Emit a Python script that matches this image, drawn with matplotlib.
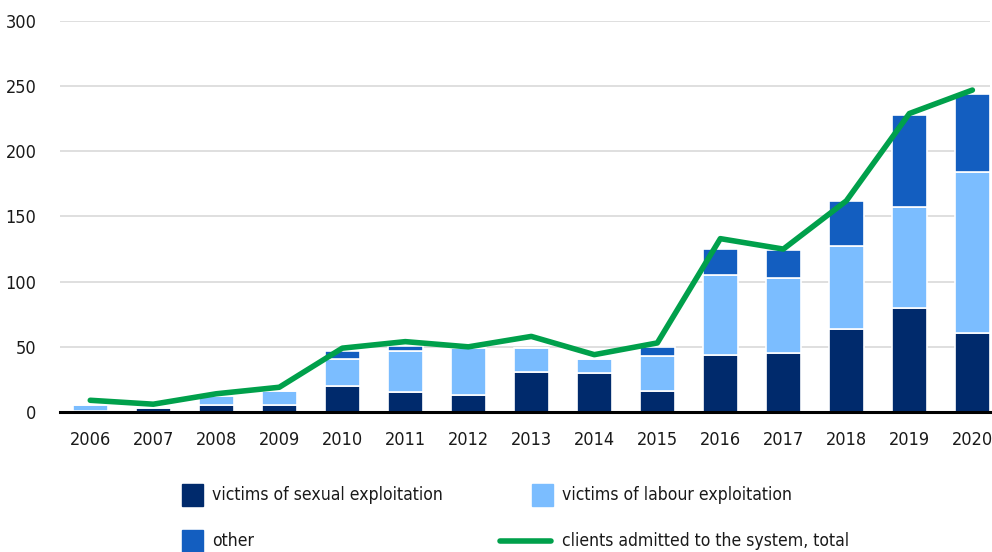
import numpy as np
import matplotlib.pyplot as plt
from matplotlib.patches import Rectangle
from matplotlib.lines import Line2D

plt.rcParams['font.family'] = ['Liberation Sans Narrow', 'DejaVu Sans']
plt.rcParams['font.stretch'] = 'condensed'

years = ['2006', '2007', '2008', '2009', '2010', '2011', '2012', '2013',
         '2014', '2015', '2016', '2017', '2018', '2019', '2020']
sexual = [1, 3, 5, 5, 20, 15, 13, 31, 30, 16, 44, 45, 64, 80, 61]
labour = [4, 1, 7, 11, 21, 32, 36, 18, 11, 27, 61, 58, 63, 77, 123]
other = [0, 0, 0, 0, 6, 4, 0, 0, 0, 7, 20, 21, 35, 71, 60]
total = [9, 6, 14, 19, 49, 54, 50, 58, 44, 53, 133, 125, 162, 229, 247]

c_sex = '#002a6c'
c_lab = '#7bbdff'
c_oth = '#135ec0'
c_line = '#00a04b'

fig = plt.figure(figsize=(9.92, 5.52), dpi=100)
ax = fig.add_axes([0.0605, 0.2536, 0.9375, 0.7084])

x = np.arange(len(years))
w = 0.55
s = np.array(sexual)
l = np.array(labour)
o = np.array(other)
ax.bar(x, s, w, color=c_sex, edgecolor='white', linewidth=1.2, zorder=2)
ax.bar(x, l, w, bottom=s, color=c_lab, edgecolor='white', linewidth=1.2, zorder=2)
ax.bar(x, o, w, bottom=s + l, color=c_oth, edgecolor='white', linewidth=1.2, zorder=2)
ax.plot(x, total, color=c_line, linewidth=4, solid_capstyle='round', zorder=3)

ax.set_xlim(-0.48, 14.28)
ax.set_ylim(0, 300)
ax.set_yticks(range(0, 301, 50))
ax.set_xticks(x)
ax.set_xticklabels(years)
ax.yaxis.grid(True, color='#dcdcdc', linewidth=1.3, zorder=0)
ax.set_axisbelow(True)
for sp in ['left', 'right', 'top']:
    ax.spines[sp].set_visible(False)
ax.spines['bottom'].set_linewidth(2.2)
ax.spines['bottom'].set_color('black')
ax.spines['bottom'].set_zorder(4)
ax.tick_params(axis='both', length=0, labelsize=13, colors='#1a1a1a')
ax.tick_params(axis='x', pad=14)
ax.tick_params(axis='y', pad=17)

# legend drawn by hand in figure pixels
W, H = 992, 552
def box(x0, yc, color):
    fig.add_artist(Rectangle((x0 / W, 1 - (yc + 11) / H), 21 / W, 22 / H,
                             transform=fig.transFigure, color=color))

def label(x0, yc, txt):
    fig.text(x0 / W, 1 - yc / H, txt, fontsize=12.6, va='center', ha='left',
             color='#1a1a1a')

box(182, 495, c_sex)
label(212, 495, 'victims of sexual exploitation')
box(532, 495, c_lab)
label(562, 495, 'victims of labour exploitation')
box(182, 541, c_oth)
label(212, 541, 'other')
fig.add_artist(Line2D([500 / W, 551 / W], [1 - 541 / H, 1 - 541 / H],
                      transform=fig.transFigure, color=c_line, linewidth=4,
                      solid_capstyle='round'))
label(562, 541, 'clients admitted to the system, total')

fig.savefig('out.png', dpi=100)
